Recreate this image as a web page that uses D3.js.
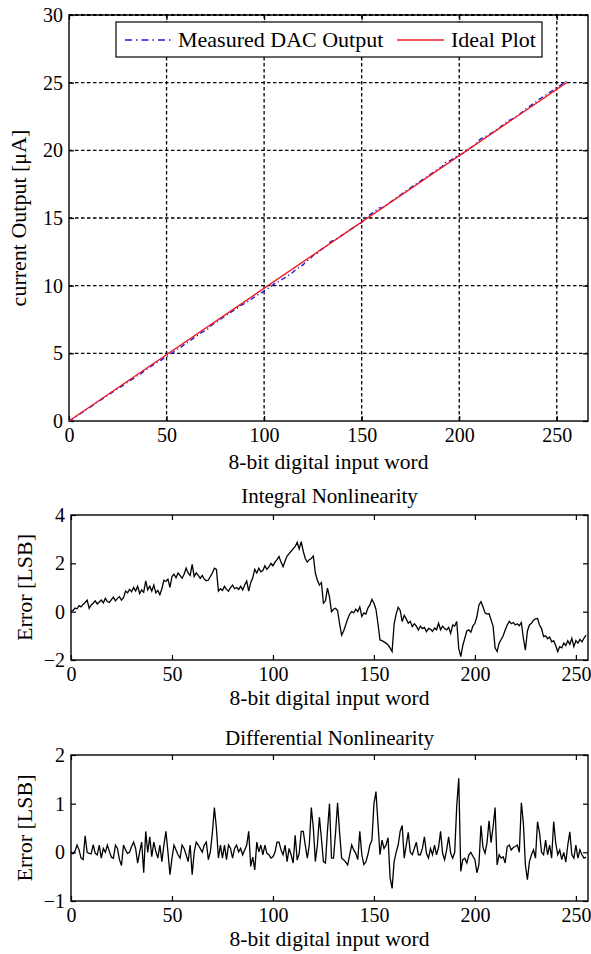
<!DOCTYPE html>
<html>
<head>
<meta charset="utf-8">
<script src="https://cdn.jsdelivr.net/npm/d3@7"></script>
<style>
  html, body { margin: 0; padding: 0; background: #fff; }
  svg { display: block; font-family: "Liberation Serif", "Times New Roman", serif; }
</style>
</head>
<body>
<svg id="fig" width="591" height="954"></svg>
<script>
// ---- data ----
// Integral nonlinearity per input code 0..255 [LSB]
const inl = [
  0, 0.05, 0.15, 0.12, 0.25, 0.2, 0.3, 0.38, 0.48, 0.14,
  0.28, 0.35, 0.45, 0.32, 0.4, 0.48, 0.36, 0.55, 0.42, 0.38,
  0.5, 0.6, 0.45, 0.55, 0.62, 0.48, 0.58, 0.85, 0.78, 0.92,
  0.82, 1.0, 0.85, 1.05, 0.75, 0.9, 0.8, 1.27, 0.9, 1.05,
  0.85, 1.1, 0.78, 0.88, 0.7, 0.95, 1.3, 1.25, 1.35, 1.0,
  1.45, 1.55, 1.4, 1.6, 1.5, 1.38, 1.55, 1.8, 1.6, 1.5,
  1.96, 1.45, 1.6, 1.5, 1.38, 1.5, 1.35, 1.28, 1.31, 1.45,
  1.6, 1.8, 1.75, 0.85, 0.95, 0.88, 1.05, 0.92, 0.85, 1.0,
  1.1, 0.95, 1.0, 0.92, 1.05, 0.9, 1.1, 1.27, 0.85, 1.2,
  1.4, 1.75, 1.6, 1.8, 1.65, 1.7, 1.9, 1.75, 1.85, 2.0,
  1.9, 2.05, 2.15, 2.28, 2.05, 1.86, 2.1, 2.3, 2.4, 2.5,
  2.6, 2.7, 2.87, 2.6, 2.9, 2.5, 2.2, 2.05, 2.15, 2.2,
  2.3, 1.6, 1.3, 1.1, 1.2, 0.35, 0.45, 0.97, 0.6, 0.0,
  0.1, 0.14, 0.05, -0.5, -0.97, -0.8, -0.55, -0.3, -0.1, 0.0,
  -0.05, 0.1, 0.0, 0.2, -0.2, -0.05, -0.1, 0.15, 0.28, 0.51,
  0.35, 0.1, -0.5, -1.17, -1.2, -1.25, -1.3, -1.38, -1.5, -1.65,
  -0.5, -0.1, 0.18, 0.05, -0.41, -0.15, -0.3, -0.48, -0.4, -0.62,
  -0.5, -0.6, -0.76, -0.6, -0.7, -0.65, -0.83, -0.7, -0.72, -0.82,
  -0.68, -0.75, -0.48, -0.75, -0.6, -0.7, -0.75, -0.65, -0.9, -0.55,
  -0.6, -0.41, -1.52, -1.86, -1.4, -1.1, -0.8, -0.75, -0.85, -0.6,
  -0.48, -0.2, 0.28, 0.41, 0.2, -0.05, -0.1, -0.08, -0.34, -0.6,
  -1.5, -1.65, -1.3, -1.15, -1.0, -0.76, -0.55, -0.4, -0.5, -0.45,
  -0.55, -0.5, -0.58, -0.45, -1.1, -1.59, -0.8, -0.55, -0.48, -0.35,
  -0.3, -0.28, -0.55, -0.7, -1.03, -1.0, -1.12, -1.05, -1.25, -1.2,
  -1.4, -1.65, -1.45, -1.5, -1.3, -1.4, -1.2, -1.35, -1.1, -1.45,
  -1.2, -1.3, -1.15, -1.25, -1.1, -0.97
];

// Differential nonlinearity per input code 0..255 [LSB]
const dnl = [
  0, -0.03, 0.03, 0.15, 0.05, -0.12, -0.15, 0.34, 0.0, -0.02,
  -0.03, 0.16, -0.02, -0.05, 0.15, -0.12, 0.08, 0.0, 0.15, 0.02,
  -0.1, -0.12, 0.15, 0.08, -0.15, -0.27, 0.15, 0.05, -0.02, 0.0,
  0.12, 0.21, 0.08, -0.22, 0.01, 0.21, -0.42, 0.43, 0.0, 0.32,
  -0.09, 0.21, 0.02, -0.12, 0.15, -0.19, 0.15, 0.43, 0.01, -0.46,
  -0.12, 0.15, 0.05, -0.05, -0.12, 0.15, 0.08, -0.05, -0.19, 0.15,
  -0.46, 0.0, 0.21, 0.15, 0.08, 0.0, 0.15, 0.21, -0.15, 0.01,
  0.4, 0.92, 0.5, -0.12, 0.15, -0.12, 0.15, -0.15, 0.15, 0.08,
  -0.12, 0.08, 0.15, 0.01, 0.08, -0.05, 0.05, 0.15, 0.43, -0.29,
  -0.1, -0.36, 0.21, 0.01, 0.15, -0.05, 0.15, -0.02, -0.05, -0.12,
  -0.09, 0.0, 0.21, 0.21, 0.05, -0.05, 0.15, -0.19, 0.08, -0.05,
  -0.22, 0.35, -0.16, -0.02, 0.43, 0.43, 0.15, -0.12, 0.15, 0.92,
  0.5, -0.19, 0.15, 0.72, 0.28, -0.19, -0.22, 0.45, 1.0, -0.12,
  -0.12, 0.4, 1.02, 0.4, -0.12, -0.15, -0.2, -0.26, -0.05, 0.15,
  0.05, -0.02, -0.15, 0.43, -0.05, -0.25, -0.2, -0.05, 0.15, 0.25,
  0.99, 1.25, 0.6, -0.05, 0.25, 0.08, 0.15, 0.3, -0.52, -0.74,
  -0.19, 0.0, 0.15, 0.43, 0.55, -0.12, 0.15, 0.41, 0.0, -0.05,
  0.08, 0.21, -0.05, -0.05, 0.08, 0.32, -0.02, -0.12, 0.08, -0.05,
  0.15, -0.05, 0.1, 0.43, -0.02, -0.15, 0.05, 0.32, -0.02, -0.12,
  0.0, 0.95, 1.52, -0.39, -0.15, -0.12, -0.22, -0.05, 0.0, -0.08,
  -0.15, -0.42, -0.25, 0.55, 0.1, -0.02, 0.2, 0.65, 0.2, 0.52,
  0.92, -0.26, -0.05, -0.12, -0.09, -0.22, 0.12, 0.15, 0.05, 0.1,
  0.12, 0.15, 0.0, 1.02, 0.6, -0.26, -0.56, -0.19, -0.05, 0.05,
  -0.12, 0.63, 0.4, 0.0, -0.05, 0.25, -0.05, 0.15, -0.12, 0.63,
  0.2, -0.05, 0.05, -0.15, 0.0, -0.2, 0.15, 0.42, -0.05, -0.12,
  0.15, -0.12, 0.05, -0.05, -0.12, -0.1
];

// Ideal transfer: end points of the straight line (code, current in µA)
const idealCodes = [0, 255];
const idealCurrent = [0, 25];

const currentTicks = [0, 5, 10, 15, 20, 25, 30];
const codeTicks = [0, 50, 100, 150, 200, 250];
const inlTicks = [-2, 0, 2, 4];
const dnlTicks = [-1, 0, 1, 2];
const legendLabels = ["Measured DAC Output", "Ideal Plot"];
const panelTitles = ["Integral Nonlinearity", "Differential Nonlinearity"];
const xLabel = "8-bit digital input word";
const yLabels = ["current Output [\u03bcA]", "Error [LSB]"];

// Measured output: ideal staircase minus the INL error (1 LSB = full scale / 255 codes)
const lsb = (idealCurrent[1] - idealCurrent[0]) / (idealCodes[1] - idealCodes[0]);
const codes = d3.range(inl.length);
const measured = codes.map(k => (k - inl[k]) * lsb);

// ---- drawing ----
const svg = d3.select("#fig");
const TICK_FONT = 20, LABEL_FONT = 21.5, TITLE_FONT = 21;

function panel(box, xDomain, yDomain, yTicks, opts) {
  const x = d3.scaleLinear().domain(xDomain).range([box.left, box.right]);
  const y = d3.scaleLinear().domain(yDomain).range([box.bottom, box.top]);
  const g = svg.append("g");

  g.append("rect")
    .attr("x", box.left).attr("y", box.top)
    .attr("width", box.right - box.left).attr("height", box.bottom - box.top)
    .attr("fill", "#fff");

  if (opts.grid) {
    const grid = g.append("g").attr("stroke", "#000").attr("stroke-width", 1.3)
      .attr("stroke-dasharray", "3.5,2.5");
    grid.selectAll(".gx").data(codeTicks.filter(v => v > 0)).join("line")
      .attr("x1", d => x(d)).attr("x2", d => x(d))
      .attr("y1", box.top).attr("y2", box.bottom);
    grid.selectAll(".gy").data(yTicks.filter(v => v > yDomain[0] && v < yDomain[1])).join("line")
      .attr("x1", box.left).attr("x2", box.right)
      .attr("y1", d => y(d)).attr("y2", d => y(d));
  }

  const axisStyle = sel => {
    sel.select(".domain").remove();
    sel.selectAll("line").attr("stroke", "#000").attr("stroke-width", 1.2);
    sel.selectAll("text").attr("font-size", TICK_FONT)
      .attr("font-family", "Liberation Serif, serif").attr("fill", "#000");
  };
  const fmt = d3.format("d");

  g.append("g").attr("transform", `translate(0,${box.bottom})`)
    .call(d3.axisBottom(x).tickValues(codeTicks).tickFormat(fmt).tickSizeInner(-5).tickSizeOuter(0).tickPadding(7))
    .call(axisStyle);
  g.append("g").attr("transform", `translate(0,${box.top})`)
    .call(d3.axisTop(x).tickValues(codeTicks).tickFormat("").tickSizeInner(-5).tickSizeOuter(0))
    .call(axisStyle);
  g.append("g").attr("transform", `translate(${box.left},0)`)
    .call(d3.axisLeft(y).tickValues(yTicks).tickFormat(fmt).tickSizeInner(-5).tickSizeOuter(0).tickPadding(6))
    .call(axisStyle);
  g.append("g").attr("transform", `translate(${box.right},0)`)
    .call(d3.axisRight(y).tickValues(yTicks).tickFormat("").tickSizeInner(-5).tickSizeOuter(0))
    .call(axisStyle);

  g.append("rect")
    .attr("x", box.left).attr("y", box.top)
    .attr("width", box.right - box.left).attr("height", box.bottom - box.top)
    .attr("fill", "none").attr("stroke", "#000").attr("stroke-width", 1.4);

  if (opts.grid) {
    // top grid line drawn over the frame
    g.append("line").attr("x1", box.left).attr("x2", box.right)
      .attr("y1", box.top).attr("y2", box.top)
      .attr("stroke", "#000").attr("stroke-width", 1.8).attr("stroke-dasharray", "3.5,2.5");
  }

  // x label
  g.append("text").attr("x", (box.left + box.right) / 2).attr("y", opts.xLabelY)
    .attr("text-anchor", "middle").attr("font-size", LABEL_FONT).text(xLabel);
  // y label
  g.append("text")
    .attr("transform", `translate(${opts.yLabelX},${(box.top + box.bottom) / 2}) rotate(-90)`)
    .attr("text-anchor", "middle").attr("font-size", LABEL_FONT + 0.5).text(opts.yLabel);
  if (opts.title) {
    g.append("text").attr("x", (box.left + box.right) / 2).attr("y", opts.titleY)
      .attr("text-anchor", "middle").attr("font-size", TITLE_FONT).text(opts.title);
  }
  return { x, y, g };
}

// Panel 1: transfer characteristic
const p1 = panel({ left: 69, right: 588, top: 15, bottom: 421 }, [0, 266], [0, 30], currentTicks,
  { grid: true, xLabelY: 469, yLabelX: 26, yLabel: yLabels[0] });

p1.g.append("path")
  .datum(codes)
  .attr("fill", "none").attr("stroke", "#1a1ad6").attr("stroke-width", 1.4)
  .attr("stroke-dasharray", "5,3,1.2,3")
  .attr("d", d3.line().x(k => p1.x(k)).y(k => p1.y(measured[k])));

p1.g.append("path")
  .datum(d3.zip(idealCodes, idealCurrent))
  .attr("fill", "none").attr("stroke", "#ee1c24").attr("stroke-width", 1.4)
  .attr("d", d3.line().x(d => p1.x(d[0])).y(d => p1.y(d[1])));

// Legend
const leg = p1.g.append("g");
leg.append("rect").attr("x", 116).attr("y", 22).attr("width", 426).attr("height", 35)
  .attr("fill", "#fff").attr("stroke", "#000").attr("stroke-width", 1.2);
leg.append("line").attr("x1", 125).attr("x2", 173).attr("y1", 40).attr("y2", 40)
  .attr("stroke", "#1a1ad6").attr("stroke-width", 1.3).attr("stroke-dasharray", "7,4,1.5,4");
leg.append("text").attr("x", 178).attr("y", 47).attr("font-size", 22).text(legendLabels[0]);
leg.append("line").attr("x1", 397).attr("x2", 444).attr("y1", 40).attr("y2", 40)
  .attr("stroke", "#ee1c24").attr("stroke-width", 1.3);
leg.append("text").attr("x", 451).attr("y", 47).attr("font-size", 22).text(legendLabels[1]);

// Panel 2: INL
const p2 = panel({ left: 71, right: 588, top: 515, bottom: 660 }, [0, 256], [-2, 4], inlTicks,
  { grid: false, xLabelY: 705, yLabelX: 32, yLabel: yLabels[1], title: panelTitles[0], titleY: 503 });
p2.g.append("path").datum(codes)
  .attr("fill", "none").attr("stroke", "#000").attr("stroke-width", 1.3)
  .attr("d", d3.line().x(k => p2.x(k)).y(k => p2.y(inl[k])));

// Panel 3: DNL
const p3 = panel({ left: 71, right: 588, top: 755, bottom: 901 }, [0, 256], [-1, 2], dnlTicks,
  { grid: false, xLabelY: 946, yLabelX: 32, yLabel: yLabels[1], title: panelTitles[1], titleY: 745 });
p3.g.append("path").datum(codes)
  .attr("fill", "none").attr("stroke", "#000").attr("stroke-width", 1.3)
  .attr("d", d3.line().x(k => p3.x(k)).y(k => p3.y(dnl[k])));
</script>
</body>
</html>
